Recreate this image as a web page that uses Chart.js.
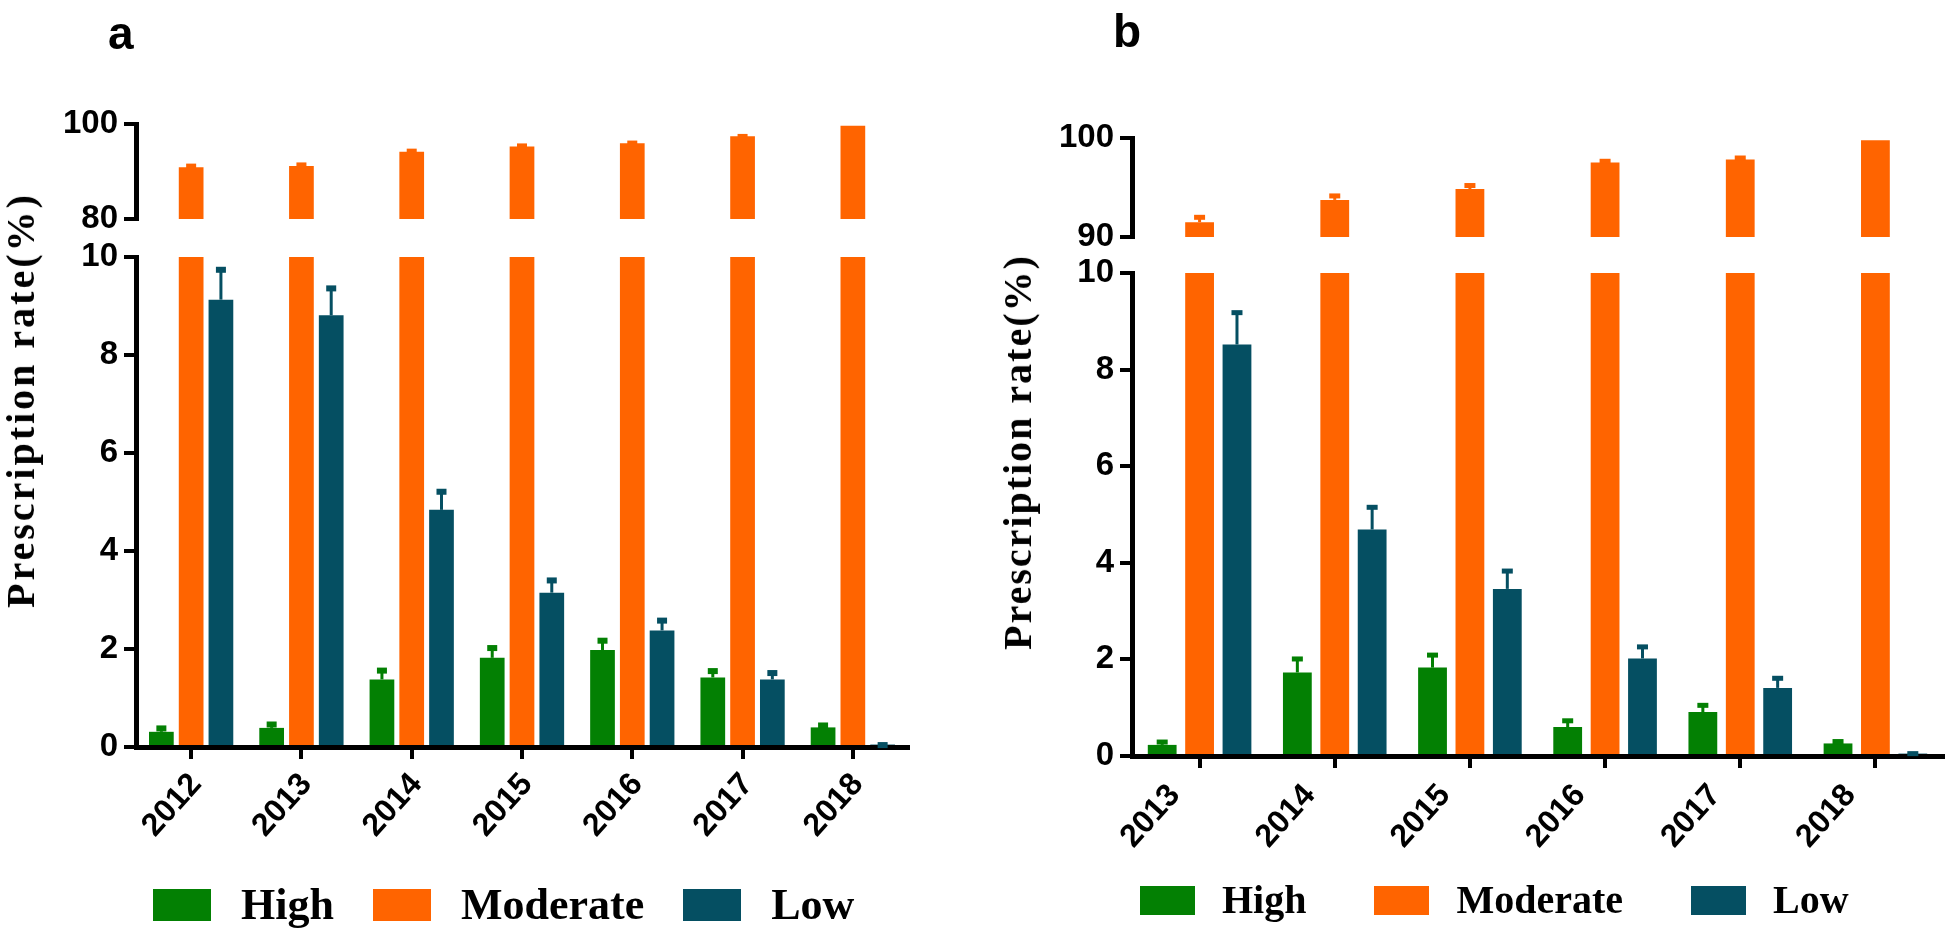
<!DOCTYPE html>
<html>
<head>
<meta charset="utf-8">
<script src="https://cdn.jsdelivr.net/npm/chart.js@4.4.1/dist/chart.umd.min.js"></script>
<style>
	html, body { margin:0; padding:0; background:#fff; overflow:hidden; }
	#page { position:relative; width:1946px; height:932px; }
	.wrap { position:absolute; top:0; height:932px; }
	.letter { position:absolute; font:bold 46px "Liberation Sans", Arial, sans-serif; line-height:1; color:#000; }
	.ytitle { position:absolute; font-family:"Liberation Serif", "Times New Roman", serif; font-weight:bold; line-height:1;
		white-space:nowrap; color:#000; transform:translate(-50%, -50%) rotate(-90deg); }
	.legend { position:absolute; display:flex; align-items:center; font-family:"Liberation Serif", "Times New Roman", serif;
		font-weight:bold; line-height:1; color:#000; white-space:nowrap; }
	.legend .item { display:flex; align-items:center; }
	.legend .sw { display:inline-block; }
</style>
</head>
<body>
<div id="page">
	<div class="wrap" style="left:0;width:960px"><canvas id="chartA"></canvas></div>
	<div class="wrap" style="left:960px;width:986px"><canvas id="chartB"></canvas></div>
	<div class="letter" style="left:108px;top:10px">a</div>
	<div class="letter" style="left:1113px;top:8px">b</div>
	<div class="ytitle" style="left:21px;top:400px;font-size:40px;letter-spacing:3px">Prescription rate(%)</div>
	<div class="ytitle" style="left:1018px;top:452px;font-size:40px;letter-spacing:2px">Prescription rate(%)</div>
	<div id="legendA" class="legend" style="left:153px;top:883px;height:44px"></div>
	<div id="legendB" class="legend" style="left:1140px;top:878px;height:44px"></div>
</div>
<script>
// panel a
const yearsA = ['2012', '2013', '2014', '2015', '2016', '2017', '2018'];
const highA = [0.31, 0.39, 1.38, 1.82, 1.98, 1.42, 0.40];
const highErrA = [0.11, 0.11, 0.22, 0.24, 0.23, 0.17, 0.08];
const moderateA = [90.9, 91.15, 94.15, 95.25, 95.95, 97.4, 99.65];
const moderateErrA = [0.55, 0.55, 0.45, 0.45, 0.35, 0.3, 0];
const lowA = [9.13, 8.81, 4.84, 3.15, 2.38, 1.38, 0.05];
const lowErrA = [0.65, 0.59, 0.41, 0.29, 0.24, 0.17, 0.03];
const topTicksA = [80, 100];
const bottomTicksA = [0, 2, 4, 6, 8, 10];

// panel b
const yearsB = ['2013', '2014', '2015', '2016', '2017', '2018'];
const highB = [0.23, 1.73, 1.83, 0.60, 0.91, 0.26];
const highErrB = [0.09, 0.31, 0.29, 0.16, 0.17, 0.07];
const moderateB = [91.5, 93.75, 94.85, 97.53, 97.83, 99.77];
const moderateErrB = [0.64, 0.55, 0.5, 0.27, 0.3, 0];
const lowB = [8.52, 4.69, 3.46, 2.02, 1.41, 0.05];
const lowErrB = [0.69, 0.49, 0.40, 0.27, 0.23, 0.03];
const topTicksB = [90, 100];
const bottomTicksB = [0, 2, 4, 6, 8, 10];

const GREEN = '#038003';
const ORANGE = '#ff6400';
const TEAL = '#054f62';
const SANS = '"Liberation Sans", Arial, sans-serif';

// draws SEM bars on top of bars that carry an errors array
const errorBars = {
	id: 'errorBars',
	afterDatasetsDraw(chart, args, opts){
		const ctx = chart.ctx;
		chart.data.datasets.forEach(function(ds, i){
			if(!ds.errors) return;
			const meta = chart.getDatasetMeta(i);
			const scale = chart.scales[meta.yAxisID];
			meta.data.forEach(function(bar, j){
				const e = ds.errors[j];
				if(!e) return;
				const yTop = scale.getPixelForValue(ds.data[j] + e);
				ctx.save();
				ctx.strokeStyle = ds.backgroundColor;
				ctx.fillStyle = ds.backgroundColor;
				ctx.lineWidth = 3;
				ctx.beginPath();
				ctx.moveTo(bar.x, bar.y);
				ctx.lineTo(bar.x, yTop);
				ctx.stroke();
				ctx.fillRect(bar.x - opts.capW / 2, yTop - 1, opts.capW, opts.capH);
				ctx.restore();
			});
		});
	}
};

// legend as html, built from the chart's own legend items
const htmlLegend = {
	id: 'htmlLegend',
	afterUpdate(chart, args, opts){
		const box = document.getElementById(opts.containerID);
		if(!box) return;
		box.innerHTML = '';
		box.style.columnGap = opts.gap + 'px';
		box.style.fontSize = opts.fontSize + 'px';
		const items = chart.options.plugins.legend.labels.generateLabels(chart)
			.filter(it => !chart.data.datasets[it.datasetIndex].hideInLegend);
		items.forEach(function(it){
			const item = document.createElement('div');
			item.className = 'item';
			const sw = document.createElement('span');
			sw.className = 'sw';
			sw.style.background = it.fillStyle;
			sw.style.width = opts.boxW + 'px';
			sw.style.height = opts.boxH + 'px';
			const tx = document.createElement('span');
			tx.textContent = it.text;
			tx.style.marginLeft = opts.textGap + 'px';
			item.appendChild(sw);
			item.appendChild(tx);
			box.appendChild(item);
		});
	}
};

function yAxis(p, weight, stackWeight, ticks){
	return {
		type: 'linear', position: 'left', stack: 'v', weight: weight, stackWeight: stackWeight,
		stacked: false,
		min: ticks[0], max: ticks[ticks.length - 1],
		afterBuildTicks(s){ s.ticks = ticks.map(v => ({value: v})); },
		ticks: { color: '#000', padding: 6, font: { family: SANS, weight: 'bold', size: 33 } },
		grid: { display: true, drawOnChartArea: false, drawTicks: true, tickLength: 12, tickWidth: 4, tickColor: '#000', lineWidth: 4 },
		border: { display: true, color: '#000', width: 5 },
		afterFit(s){ s.width = p.yAxisW; }
	};
}

function buildPanel(id, p){
	const ctx = document.getElementById(id).getContext('2d');
	const cap = p.bottomTicks[p.bottomTicks.length - 1];
	return new Chart(ctx, {
		type: 'bar',
		data: {
			labels: p.years,
			datasets: [
				{ label: 'High', data: p.high, errors: p.highErr, backgroundColor: GREEN, yAxisID: 'yBot', stack: 'h' },
				{ label: 'Moderate', data: p.moderate, errors: p.moderateErr, backgroundColor: ORANGE, yAxisID: 'yTop', stack: 'm' },
				// lower part of the broken Moderate bars
				{ label: 'Moderate', data: p.moderate.map(v => Math.min(v, cap)), backgroundColor: ORANGE, yAxisID: 'yBot', stack: 'm', hideInLegend: true },
				{ label: 'Low', data: p.low, errors: p.lowErr, backgroundColor: TEAL, yAxisID: 'yBot', stack: 'l' }
			]
		},
		options: {
			responsive: true,
			maintainAspectRatio: false,
			animation: false,
			devicePixelRatio: 1,
			datasets: { bar: { barPercentage: p.barPct, categoryPercentage: p.catPct } },
			layout: { padding: { top: p.padTop, left: 0, right: p.padRight, bottom: 0 } },
			scales: {
				x: {
					offset: true,
					grid: { display: true, offset: false, drawOnChartArea: false, drawTicks: true, tickLength: 12, tickWidth: 4, tickColor: '#000', lineWidth: 4 },
					border: { display: true, color: '#000', width: 5 },
					ticks: { color: '#000', autoSkip: false, minRotation: p.xRot, maxRotation: p.xRot, padding: p.xPad, labelOffset: p.xShift,
						font: { family: SANS, weight: 'bold', size: 32 } },
					afterFit(s){ s.height = p.xAxisH; }
				},
				yTop: yAxis(p, 3, p.topH, p.topTicks),
				yGap: {
					type: 'linear', position: 'left', stack: 'v', weight: 2, stackWeight: p.gapH, display: true,
					ticks: { display: false }, grid: { display: false, drawTicks: false }, border: { display: false },
					afterFit(s){ s.width = p.yAxisW; }
				},
				yBot: yAxis(p, 1, p.botH, p.bottomTicks)
			},
			plugins: {
				legend: { display: false },
				tooltip: { enabled: false },
				errorBars: { capW: p.capW, capH: p.capH },
				htmlLegend: p.legend
			}
		},
		plugins: [errorBars, htmlLegend]
	});
}

window.addEventListener('DOMContentLoaded', function(){
	buildPanel('chartA', {
		years: yearsA, high: highA, highErr: highErrA, moderate: moderateA, moderateErr: moderateErrA,
		low: lowA, lowErr: lowErrA, topTicks: topTicksA, bottomTicks: bottomTicksA,
		barPct: 0.83, catPct: 0.81,
		padTop: 124, padRight: 52, yAxisW: 136,
		topH: 95, gapH: 38, botH: 490,
		xAxisH: 185, xPad: 7, xRot: 48, xShift: 5,
		capW: 10, capH: 6,
		legend: { containerID: 'legendA', gap: 39, fontSize: 44, boxW: 58, boxH: 32, textGap: 30 }
	});
	buildPanel('chartB', {
		years: yearsB, high: highB, highErr: highErrB, moderate: moderateB, moderateErr: moderateErrB,
		low: lowB, lowErr: lowErrB, topTicks: topTicksB, bottomTicks: bottomTicksB,
		barPct: 0.77, catPct: 0.83,
		padTop: 138, padRight: 3, yAxisW: 172,
		topH: 99, gapH: 36, botH: 483,
		xAxisH: 176, xPad: 9, xRot: 48, xShift: -25,
		capW: 11, capH: 5,
		legend: { containerID: 'legendB', gap: 68, fontSize: 40, boxW: 55, boxH: 29, textGap: 27 }
	});
});
</script>
</body>
</html>
